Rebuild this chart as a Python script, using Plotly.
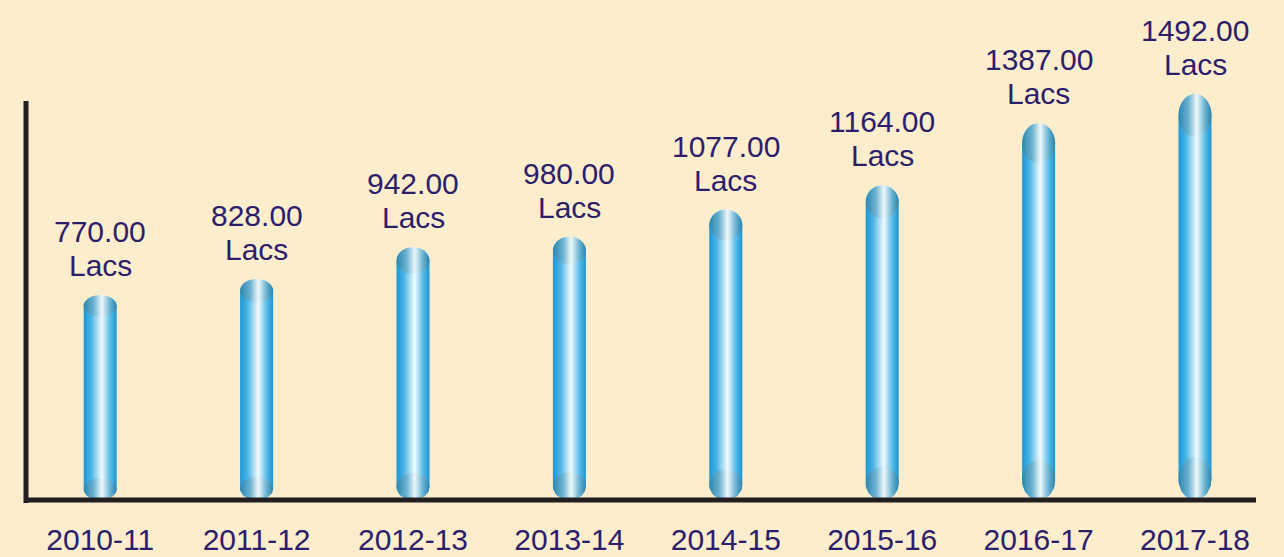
import numpy as np
import plotly.graph_objects as go

# ---- data ----
years = ["2010-11", "2011-12", "2012-13", "2013-14", "2014-15", "2015-16", "2016-17", "2017-18"]
values = [770.00, 828.00, 942.00, 980.00, 1077.00, 1164.00, 1387.00, 1492.00]
unit = "Lacs"

# ---- style constants ----
BG = "#FCEDCD"
TXT = "#2D1E6B"
AXIS = "#231F20"
FONT = "Liberation Sans, Arial, Helvetica, sans-serif"
YMIN, YMAX = 35.5, 1793
XMIN, XMAX = -0.4744, 7.390
HALF_W = 0.1055          # half bar width in x units
CAP_FRAC = 0.053         # cap half-height as fraction of bar height

body_scale = [[0, "#1C97D6"], [0.22, "#47B3E5"], [0.55, "#F3FBFE"], [0.8, "#5BBDE8"], [1, "#1A93D3"]]
face_scale = [[0, "#2F87B0"], [0.3, "#6AB2D0"], [0.55, "#EEF8FB"], [0.8, "#6AB3D2"], [1, "#2C83AC"]]

fig = go.Figure()

t = np.linspace(0, np.pi, 30)
for i, v in enumerate(values):
    cap = CAP_FRAC * (v - YMIN)
    top_c = v - cap
    bot_c = YMIN + cap
    top_x = i - HALF_W * np.cos(t)
    top_y = top_c + cap * np.sin(t)
    bot_x = i + HALF_W * np.cos(t)
    bot_y = bot_c - cap * np.sin(t)
    bx = np.concatenate([top_x, bot_x, [top_x[0]]])
    by = np.concatenate([top_y, bot_y, [top_y[0]]])
    fig.add_trace(go.Scatter(x=bx, y=by, mode="lines", fill="toself",
                             line=dict(width=0, color="rgba(0,0,0,0)"),
                             fillgradient=dict(type="horizontal", colorscale=body_scale),
                             hoverinfo="skip", showlegend=False))
    full = np.linspace(0, 2 * np.pi, 60)
    for cy in (top_c, bot_c):
        ex = i + HALF_W * np.cos(full)
        ey = cy + cap * np.sin(full)
        fig.add_trace(go.Scatter(x=ex, y=ey, mode="lines", fill="toself",
                                 line=dict(width=0, color="rgba(0,0,0,0)"),
                                 fillgradient=dict(type="horizontal", colorscale=face_scale),
                                 hoverinfo="skip", showlegend=False))
    fig.add_annotation(x=i, y=v, text=unit, showarrow=False,
                       yanchor="bottom", yshift=11,
                       font=dict(family=FONT, size=30, color=TXT))
    fig.add_annotation(x=i, y=v, text=f"{v:.2f}", showarrow=False,
                       yanchor="bottom", yshift=45,
                       font=dict(family=FONT, size=30, color=TXT))

# axis lines
fig.add_shape(type="line", xref="paper", yref="paper", x0=0, x1=1, y0=0, y1=0,
              line=dict(color=AXIS, width=5))
fig.add_shape(type="line", xref="paper", yref="paper", x0=0, x1=0, y0=-0.006, y1=0.8143,
              line=dict(color=AXIS, width=5))

fig.update_layout(
    width=1284, height=557,
    paper_bgcolor=BG, plot_bgcolor=BG,
    margin=dict(l=26, r=28, t=10, b=57),
    showlegend=False,
    xaxis=dict(range=[XMIN, XMAX], tickvals=list(range(len(years))), ticktext=years,
               showgrid=False, zeroline=False, showline=False, ticks="",
               ticklabelstandoff=19, automargin=False,
               tickfont=dict(family=FONT, size=30, color=TXT), fixedrange=True),
    yaxis=dict(range=[YMIN, YMAX], showgrid=False, zeroline=False, showline=False,
               showticklabels=False, ticks="", fixedrange=True, automargin=False),
)

fig.write_html("out.html", config={"displayModeBar": False},
               post_script="document.body.style.margin='0';document.body.style.background='" + BG + "';")
